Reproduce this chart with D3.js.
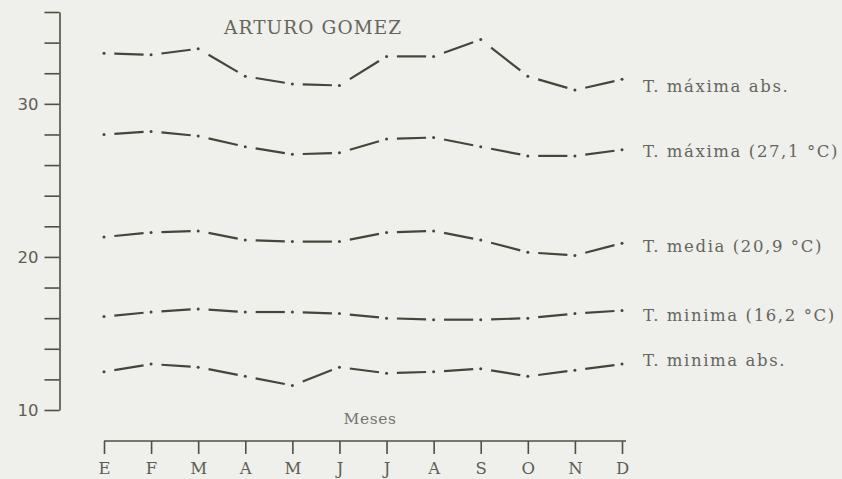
<!DOCTYPE html>
<html>
<head>
<meta charset="utf-8">
<script src="https://cdn.jsdelivr.net/npm/d3@7"></script>
<style>
  body { margin: 0; background: #efefec; }
  svg { display: block; }
  .axis path, .axis line { stroke: #4f4f42; stroke-width: 1.6; fill: none; }
  .y.axis text { font-family: "DejaVu Sans", sans-serif; font-size: 16.5px; fill: #5e5e52; }
  .x.axis text { font-family: "DejaVu Serif", serif; font-size: 16.5px; fill: #5e5e52; }
  .title { font-family: "DejaVu Serif", serif; font-size: 18.5px; fill: #66665a; letter-spacing: 1.1px; }
  .label { font-family: "DejaVu Serif", serif; font-size: 16.5px; fill: #66665c; letter-spacing: 1.6px; }
  .meses { font-family: "DejaVu Serif", serif; font-size: 15.5px; fill: #76766c; letter-spacing: 0.6px; }
  .seg { stroke: #45453a; stroke-width: 2.2; stroke-linecap: butt; }
  .dot { fill: #45453a; }
</style>
</head>
<body>
<div id="vis"></div>
<script>
// monthly values (ºC)
var months = ['E', 'F', 'M', 'A', 'M', 'J', 'J', 'A', 'S', 'O', 'N', 'D'];
var tMaxAbs = [33.3, 33.2, 33.6, 31.8, 31.3, 31.2, 33.1, 33.1, 34.2, 31.8, 30.9, 31.6];
var tMax    = [28.0, 28.2, 27.9, 27.2, 26.7, 26.8, 27.7, 27.8, 27.2, 26.6, 26.6, 27.0];
var tMedia  = [21.3, 21.6, 21.7, 21.1, 21.0, 21.0, 21.6, 21.7, 21.1, 20.3, 20.1, 20.9];
var tMin    = [16.1, 16.4, 16.6, 16.4, 16.4, 16.3, 16.0, 15.9, 15.9, 16.0, 16.3, 16.5];
var tMinAbs = [12.5, 13.0, 12.8, 12.2, 11.6, 12.8, 12.4, 12.5, 12.7, 12.2, 12.6, 13.0];
var seriesNames = ['T. máxima abs.', 'T. máxima (27,1 °C)', 'T. media (20,9 °C)', 'T. minima (16,2 °C)', 'T. minima abs.'];
var yTicks = [10, 12, 14, 16, 18, 20, 22, 24, 26, 28, 30, 32, 34, 36];
var yLabelled = [10, 20, 30];

var width = 842, height = 479;
var series = [tMaxAbs, tMax, tMedia, tMin, tMinAbs];
// small vertical nudges of the right hand labels
var labelNudge = [13, 7, 9, 10, 2];

var svg = d3.select('#vis').append('svg')
    .attr('width', width)
    .attr('height', height);

var x = d3.scalePoint()
    .domain(d3.range(months.length))
    .range([104, 622]);

var y = d3.scaleLinear()
    .domain([10, 36])
    .range([410, 12]);

var yAxis = d3.axisLeft(y)
    .tickValues(yTicks)
    .tickSize(15)
    .tickSizeOuter(0)
    .tickPadding(6)
    .tickFormat(function(d) { return yLabelled.indexOf(d) >= 0 ? d : ''; });

svg.append('g')
    .attr('class', 'y axis')
    .attr('transform', 'translate(59.5,0)')
    .call(yAxis);

var xAxis = d3.axisBottom(x)
    .tickSize(13)
    .tickSizeOuter(0)
    .tickPadding(8)
    .tickFormat(function(i) { return months[i]; });

var gx = svg.append('g')
    .attr('class', 'x axis')
    .attr('transform', 'translate(0,441)')
    .call(xAxis);
gx.select('.domain').attr('d', 'M' + x(0) + ',0H' + (x(11) + 4));

svg.append('text')
    .attr('class', 'title')
    .attr('x', 224)
    .attr('y', 34)
    .text('ARTURO GOMEZ');

svg.append('text')
    .attr('class', 'meses')
    .attr('x', 370)
    .attr('y', 424)
    .attr('text-anchor', 'middle')
    .text('Meses');

// dash-dot lines: a dot on each month, a dash in the middle of each span
var a = 0.22, b = 0.84;
series.forEach(function(vals, k) {
    var g = svg.append('g');
    var pairs = d3.pairs(vals.map(function(v, i) { return [x(i), y(v)]; }));

    g.selectAll('line')
        .data(pairs)
        .enter().append('line')
        .attr('class', 'seg')
        .attr('x1', function(p) { return p[0][0] + (p[1][0] - p[0][0]) * a; })
        .attr('y1', function(p) { return p[0][1] + (p[1][1] - p[0][1]) * a; })
        .attr('x2', function(p) { return p[0][0] + (p[1][0] - p[0][0]) * b; })
        .attr('y2', function(p) { return p[0][1] + (p[1][1] - p[0][1]) * b; });

    g.selectAll('circle')
        .data(vals)
        .enter().append('circle')
        .attr('class', 'dot')
        .attr('cx', function(d, i) { return x(i); })
        .attr('cy', function(d) { return y(d); })
        .attr('r', 1.5);

    svg.append('text')
        .attr('class', 'label')
        .attr('x', 643)
        .attr('y', y(vals[vals.length - 1]) + labelNudge[k])
        .text(seriesNames[k]);
});
</script>
</body>
</html>
